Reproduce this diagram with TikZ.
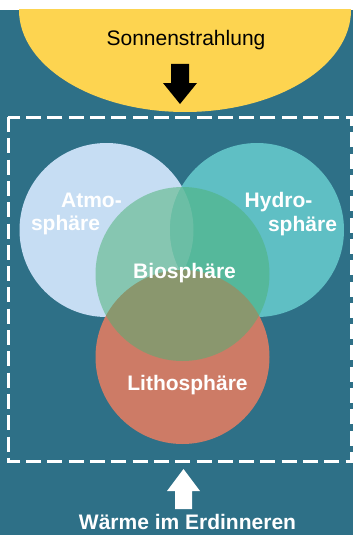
\documentclass[tikz,border=0pt]{standalone}
\usepackage{fontspec}
\setmainfont{Liberation Sans}
\definecolor{bgteal}{HTML}{2E7087}
\definecolor{sunyellow}{HTML}{FDD450}
\definecolor{atmocol}{HTML}{C6DDF3}
\definecolor{hydrocol}{HTML}{5FBFC4}
\definecolor{lithocol}{HTML}{CD7B66}
\definecolor{biocol}{HTML}{4DB276}
\tikzset{
  lbl/.style={inner sep=0pt, anchor=base, font=\fontsize{21}{25}\selectfont\bfseries, text=white},
  sunlbl/.style={inner sep=0pt, anchor=base, font=\fontsize{21}{25}\selectfont, text=black},
}
\begin{document}
\begin{tikzpicture}[x=1pt,y=-1pt]
\useasboundingbox (0,0) rectangle (353,535);
\clip (0,0) rectangle (353,535);
\fill[white] (0,0) rectangle (353,10);
\fill[bgteal] (0,10) rectangle (353,535);
% sun
\begin{scope}
  \clip (0,10) rectangle (353,535);
  \fill[sunyellow] (185,10) ellipse [x radius=166pt, y radius=102pt];
\end{scope}
\node[sunlbl] (sun) at (186,45.5) {Sonnenstrahlung};
% black arrow down
\fill[black] (171,64) -- (189,64) -- (189,83) -- (197,83) -- (180,104) -- (163,83) -- (171,83) -- cycle;
% dashed frame
\draw[white, line width=3pt, dash pattern=on 15pt off 6.3pt] (8,117) rectangle (351.5,461);
% spheres
\fill[atmocol] (106.5,230) circle [radius=87pt];
\fill[hydrocol] (257,230) circle [radius=87pt];
\begin{scope}
  \clip (257,230) circle [radius=87pt];
  \fill[atmocol, opacity=0.45] (106.5,230) circle [radius=87pt];
\end{scope}
\fill[lithocol] (182.5,357) circle [radius=87pt];
\fill[biocol, opacity=0.52] (182.5,274) circle [radius=87pt];
% labels
\node[lbl] (atmo1) at (91.5,207) {Atmo-};
\node[lbl] (atmo2) at (65.5,230.5) {sphäre};
\node[lbl] (hydro1) at (278.5,207.5) {Hydro-};
\node[lbl] (hydro2) at (302.5,231.5) {sphäre};
\node[lbl] (bio) at (184.5,278) {Biosphäre};
\node[lbl] (litho) at (187.5,390) {Lithosphäre};
% white arrow up
\fill[white] (175,509) -- (192,509) -- (192,491) -- (200,491) -- (183.5,469) -- (167,491) -- (175,491) -- cycle;
\node[lbl] (earth) at (187.5,529) {Wärme im Erdinneren};
\end{tikzpicture}
\end{document}
